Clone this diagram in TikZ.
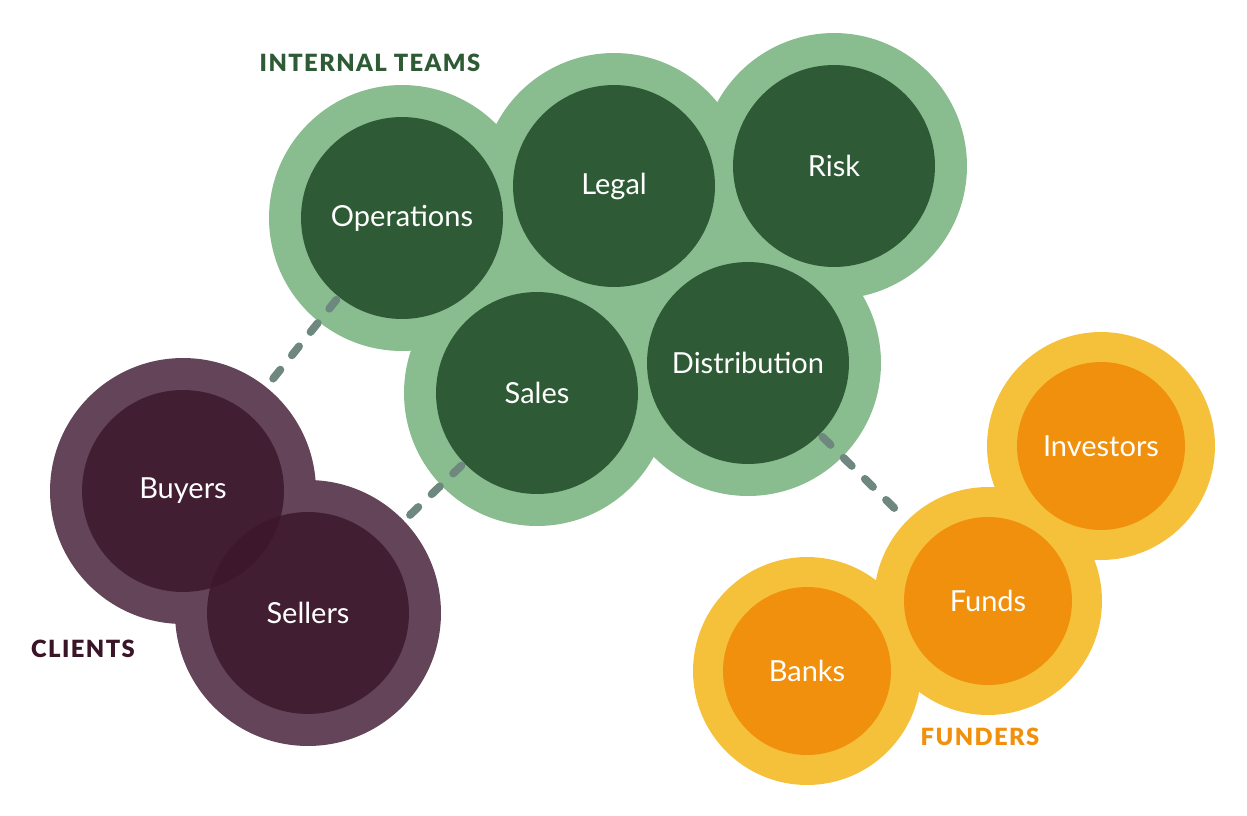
\documentclass[tikz,border=0pt]{standalone}
\usepackage{fontspec}
\setmainfont{Lato}
\newfontfamily\headfont[LetterSpace=6]{Lato Black}

\definecolor{teamring}{RGB}{137,189,143}
\definecolor{teamdark}{RGB}{46,91,53}
\definecolor{clientring}{RGB}{99,68,88}
\definecolor{clientdark}{RGB}{61,24,45}
\definecolor{clientlabel}{RGB}{58,21,39}
\definecolor{funderring}{RGB}{246,193,58}
\definecolor{funderdark}{RGB}{240,144,12}
\definecolor{linkgray}{RGB}{110,135,127}

\begin{document}
\begin{tikzpicture}[x=0.02cm, y=-0.02cm,
    bigring/.style={circle, inner sep=0pt, minimum size=5.32cm},
    smallring/.style={circle, inner sep=0pt, minimum size=4.56cm},
    team/.style={circle, inner sep=0pt, minimum size=4.04cm, fill=teamdark,
        text=white, font=\fontsize{16.5}{18}\selectfont},
    client/.style={circle, inner sep=0pt, minimum size=4.04cm, fill=clientdark,
        fill opacity=0.85, text opacity=1, text=white, font=\fontsize{16.5}{18}\selectfont},
    funder/.style={circle, inner sep=0pt, minimum size=3.36cm, fill=funderdark,
        text=white, font=\fontsize{16.5}{18}\selectfont},
    group/.style={font=\headfont\fontsize{13.5}{15}\selectfont},
    link/.style={draw=linkgray, line width=4.5pt, line cap=round,
        dash pattern=on 6.5pt off 10.5pt, shorten <=2pt, shorten >=2pt}]
    \useasboundingbox (0,0) rectangle (1247,815);

    % Internal teams
    \node[bigring, fill=teamring] (opsring) at (402,218) {};
    \node[bigring, fill=teamring] (legalring) at (614,186) {};
    \node[bigring, fill=teamring] (riskring) at (834,166) {};
    \node[bigring, fill=teamring] (salesring) at (537,393) {};
    \node[bigring, fill=teamring] (distring) at (748,363) {};
    \node[team] (ops) at (402,218) {Operations};
    \node[team] (legal) at (614,186) {Legal};
    \node[team] (risk) at (834,166) {Risk};
    \node[team] (sales) at (537,393) {Sales};
    \node[team] (dist) at (748,363) {Distribution};
    \node[group, text=teamdark] (teamslabel) at (370,63) {INTERNAL TEAMS};

    % Clients
    \node[bigring, fill=clientring] (buyersring) at (183,491) {};
    \node[bigring, fill=clientring] (sellersring) at (308,613) {};
    \node[client] (buyers) at (183,491) {Buyers};
    \node[client] (sellers) at (308,613) {Sellers};
    \node[group, text=clientlabel] (clientslabel) at (83,649) {CLIENTS};

    % Funders
    \node[smallring, fill=funderring] (investring) at (1101,446) {};
    \node[smallring, fill=funderring] (fundsring) at (988,601) {};
    \node[smallring, fill=funderring] (banksring) at (807,671) {};
    \node[funder] (invest) at (1101,446) {Investors};
    \node[funder] (funds) at (988,601) {Funds};
    \node[funder] (banks) at (807,671) {Banks};
    \node[group, text=funderdark] (funderslabel) at (980,737) {FUNDERS};

    % Links
    \draw[link] (ops) -- (buyersring);
    \draw[link] (sales) -- (sellersring);
    \draw[link] (dist) -- (fundsring);
\end{tikzpicture}
\end{document}
